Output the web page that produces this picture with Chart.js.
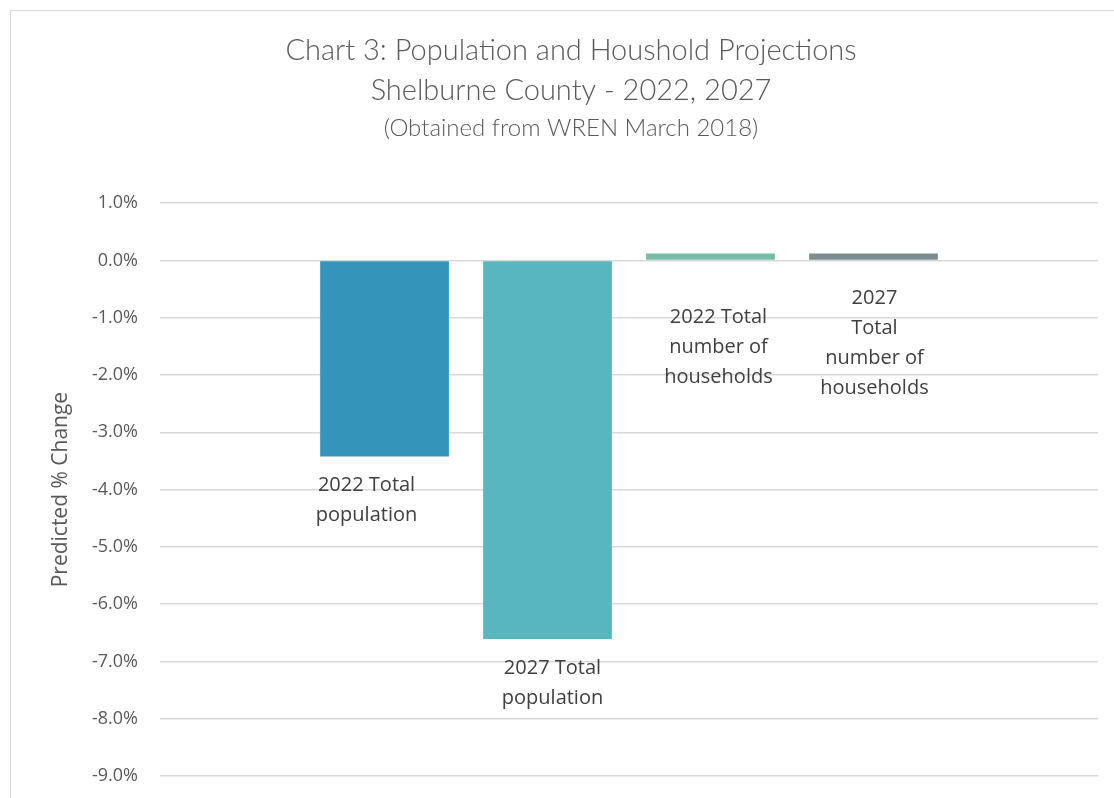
<!DOCTYPE html>
<html>
<head>
<meta charset="utf-8">
<script src="https://cdn.jsdelivr.net/npm/chart.js@4"></script>
<style>
  html, body { margin: 0; padding: 0; background: #fff; overflow: hidden; }
  #wrap { position: relative; width: 1114px; height: 798px; }
  #frame { position: absolute; left: 10px; top: 10px; width: 1120px; height: 800px; border-left: 1px solid #d9d9d9; border-top: 1px solid #d9d9d9; }
  canvas { position: absolute; left: 0; top: 0; }
</style>
</head>
<body>
<div id="wrap">
  <div id="frame"></div>
  <canvas id="chart" width="1114" height="798"></canvas>
</div>
<script>
const titleLines = ['Chart 3: Population and Houshold Projections', 'Shelburne County - 2022, 2027'];
const subtitleText = '(Obtained from WREN March 2018)';
const axisTitle = 'Predicted % Change';
const categories = [''];
const seriesNames = ['2022 Total population', '2027 Total population', '2022 Total number of households', '2027 Total number of households'];
const seriesValues = [-3.42, -6.61, 0.12, 0.12];
const seriesColors = ['#3494ba', '#58b6c0', '#75bda7', '#7a8c8e'];
const labelLines = [
  ['2022 Total', 'population'],
  ['2027 Total', 'population'],
  ['2022 Total', 'number of', 'households'],
  ['2027', 'Total', 'number of', 'households']
];
const yTicks = { min: -9, max: 1, step: 1 };

// label placement, like the hand-moved labels in the original
const labelPlacement = [
  { dx: -18, dy: 29, from: 'end' },
  { dx: 5, dy: 29, from: 'end' },
  { dx: 8, dy: 58, from: 'base' },
  { dx: 1, dy: 39, from: 'base' }
];

const barLabels = {
  id: 'barLabels',
  afterDatasetsDraw(chart) {
    const ctx = chart.ctx;
    ctx.save();
    ctx.font = '20px "Open Sans"';
    ctx.fillStyle = '#404040';
    ctx.textAlign = 'center';
    ctx.textBaseline = 'middle';
    chart.data.datasets.forEach((ds, i) => {
      const bar = chart.getDatasetMeta(i).data[0];
      const p = labelPlacement[i];
      const y0 = (p.from === 'end' ? bar.y : bar.base) + p.dy;
      labelLines[i].forEach((line, j) => {
        ctx.fillText(line, bar.x + p.dx, y0 + j * 30);
      });
    });
    ctx.restore();
  }
};

new Chart(document.getElementById('chart'), {
  type: 'bar',
  data: {
    labels: categories,
    datasets: seriesNames.map((name, i) => ({
      label: name,
      data: [seriesValues[i]],
      backgroundColor: seriesColors[i],
      categoryPercentage: 0.695,
      barPercentage: 0.79
    }))
  },
  options: {
    responsive: false,
    animation: false,
    layout: { padding: { left: 44, right: 16, top: 0, bottom: 22 } },
    scales: {
      x: { display: false },
      y: {
        min: yTicks.min, max: yTicks.max,
        ticks: { stepSize: yTicks.step, padding: 22, color: '#595959', font: { family: 'Open Sans', size: 18 }, callback: v => v.toFixed(1) + '%' },
        grid: { color: '#d9d9d9', lineWidth: 1.5, drawTicks: false },
        border: { display: false },
        title: { display: true, text: axisTitle, color: '#595959', font: { family: 'Open Sans', size: 21 } },
        afterFit: s => { s.width = 116; s.paddingTop = 11; s.paddingBottom = 11; }
      }
    },
    plugins: {
      legend: { display: false },
      tooltip: { enabled: false },
      title: {
        display: true, text: titleLines, color: '#595959',
        font: { family: 'Lato', size: 29, weight: 300, lineHeight: 1.4 },
        padding: { top: 30, bottom: 0 }
      },
      subtitle: {
        display: true, text: subtitleText, color: '#595959',
        font: { family: 'Lato', size: 24, weight: 300, lineHeight: 1.25 },
        padding: { top: 2, bottom: 60 }
      }
    }
  },
  plugins: [barLabels]
});
</script>
</body>
</html>
